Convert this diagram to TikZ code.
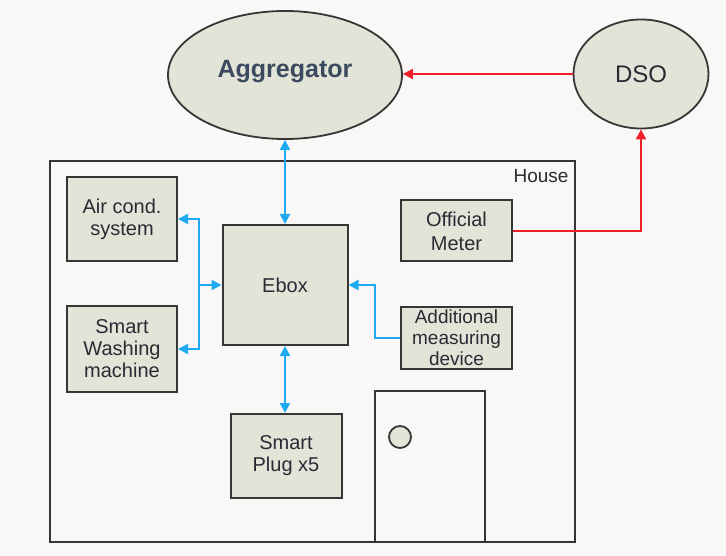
\documentclass[tikz,border=0pt]{standalone}
\usepackage{fontspec}
\setmainfont{Liberation Sans}
\usetikzlibrary{shapes.geometric,arrows.meta}
\definecolor{bgpaper}{HTML}{F9F8F6}
\definecolor{boxfill}{HTML}{E2E4D7}
\definecolor{edge}{HTML}{363636}
\definecolor{linkblue}{HTML}{1EAAF0}
\definecolor{linkred}{HTML}{F0202A}
\definecolor{titletext}{HTML}{3B4A5E}
\definecolor{plaintext}{HTML}{2A2A34}
\tikzset{
  unit/.style={draw=edge, line width=2pt, fill=boxfill, inner sep=0pt,
    align=center, text=plaintext, font=\fontsize{20}{22}\selectfont},
  party/.style={ellipse, draw=edge, line width=1.8pt, fill=boxfill, inner sep=0pt},
  bluelink/.style={draw=linkblue, line width=2pt},
  redlink/.style={draw=linkred, line width=2pt},
  tip/.style={-{Triangle[length=10pt,width=10pt]}},
  bothtips/.style={{Triangle[length=10pt,width=10pt]}-{Triangle[length=10pt,width=10pt]}}
}
\begin{document}
\begin{tikzpicture}[x=1pt,y=-1pt]
  \fill[bgpaper] (0,0) rectangle (726,556);
  \useasboundingbox (0,0) rectangle (726,556);

  % the house outline and its door
  \draw[edge, line width=2pt] (50,161) rectangle (575,542);
  \node[text=plaintext, font=\fontsize{19}{22}\selectfont] (houselabel) at (541,176) {House};
  \draw[edge, line width=2pt] (375,542) -- (375,391) -- (485,391) -- (485,542);
  \draw[edge, line width=1.8pt, fill=boxfill] (400,437) circle (11);

  % external parties
  \node[party, minimum width=234pt, minimum height=128pt] (agg) at (285,75) {};
  \node[text=titletext, font=\bfseries\fontsize{25}{28}\selectfont] (aggtext) at (285,72) {Aggregator};
  \node[party, minimum width=135pt, minimum height=109pt, text=plaintext,
        font=\fontsize{24}{28}\selectfont] (dso) at (641,74) {DSO};

  % devices inside the house
  \node[unit, minimum width=110pt, minimum height=84pt] (aircond) at (122,219) {Air cond.\\system};
  \node[unit, minimum width=110pt, minimum height=85pt] (wash) at (122,349) {Smart\\Washing\\machine};
  \node[unit, minimum width=125pt, minimum height=120pt] (ebox) at (285,285) {Ebox};
  \node[unit, minimum width=111pt, minimum height=61pt,
        font=\fontsize{20}{24}\selectfont] (meter) at (456.5,231) {Official\\Meter};
  \node[unit, minimum width=111pt, minimum height=62pt,
        font=\fontsize{19}{21}\selectfont] (extra) at (456.5,338) {Additional\\measuring\\device};
  \node[unit, minimum width=111pt, minimum height=84pt] (plug) at (286,456) {Smart\\Plug x5};

  % communication links
  \coordinate (hub) at (199,285);
  \coordinate (bend) at (375,285);
  \draw[redlink, tip] (dso.west) -- (dso.west -| agg.east);
  \draw[redlink, tip] (meter.east) -| (dso.south);
  \draw[bluelink, bothtips] (agg.south) -- (ebox.north);
  \draw[bluelink, bothtips] (ebox.south) -- (ebox.south |- plug.north);
  \draw[bluelink, bothtips] (aircond.east) -| (hub) |- (wash.east);
  \draw[bluelink, tip] (hub) -- (ebox.west);
  \draw[bluelink, tip] (extra.west) -| (bend) -- (ebox.east);
\end{tikzpicture}
\end{document}
